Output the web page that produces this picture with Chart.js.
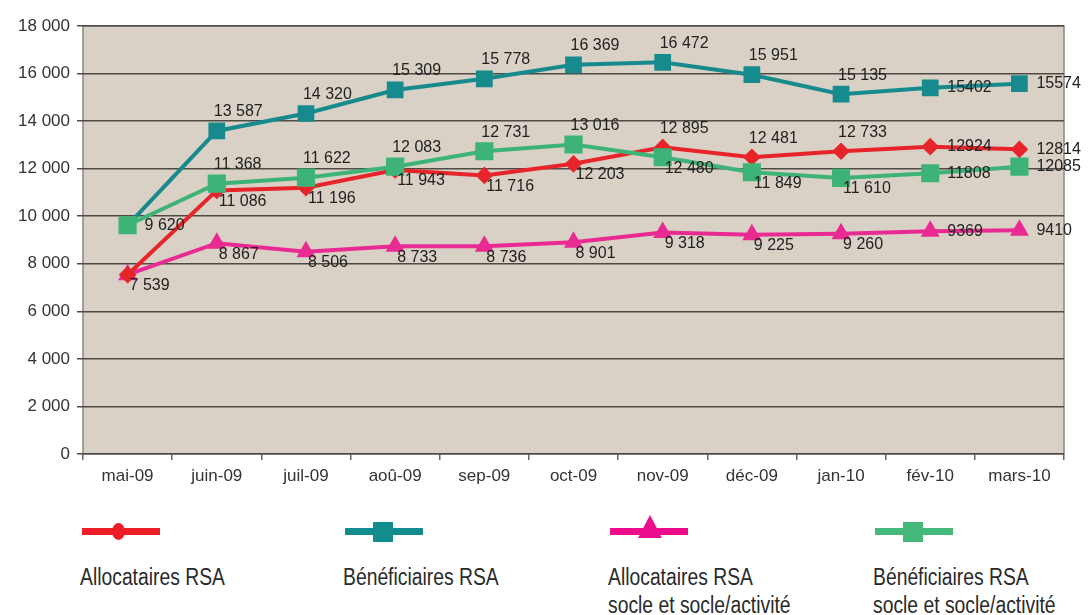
<!DOCTYPE html>
<html lang="fr">
<head>
<meta charset="utf-8">
<script src="https://cdn.jsdelivr.net/npm/chart.js@4.4.1/dist/chart.umd.min.js"></script>
<style>
  html, body { margin: 0; padding: 0; background: #fff; }
  #wrap { position: relative; width: 1088px; height: 615px; overflow: hidden; }
  #chart { position: absolute; left: 0; top: 0; }
  .leg { position: absolute; top: 512px; width: 260px; font-family: "Liberation Sans", Arial, sans-serif; font-size: 23px; color: #2a2a2a; line-height: 28px; }
  .leg .line { position: absolute; left: 2px; top: 16px; width: 78px; height: 7px; }
  .leg .mk { position: absolute; }
  .leg .txt { position: absolute; left: 0; top: 51px; white-space: nowrap; transform: scaleX(0.84); transform-origin: left top; }
</style>
</head>
<body>
<div id="wrap">
  <canvas id="chart" width="1088" height="500"></canvas>
  <div class="leg" style="left:80px">
    <div class="line" style="background:#ec1f28"></div>
    <div class="mk" style="left:32px;top:11px;width:13px;height:17px;border-radius:50%;background:#ec1f28"></div>
    <div class="txt">Allocataires RSA</div>
  </div>
  <div class="leg" style="left:343px">
    <div class="line" style="background:#128c8c"></div>
    <div class="mk" style="left:30px;top:10px;width:20px;height:20px;background:#128c8c"></div>
    <div class="txt">Bénéficiaires RSA</div>
  </div>
  <div class="leg" style="left:608px">
    <div class="line" style="background:#ec0c8c"></div>
    <div class="mk" style="left:30px;top:3px;width:0;height:0;border-left:12px solid transparent;border-right:12px solid transparent;border-bottom:23px solid #ec0c8c"></div>
    <div class="txt">Allocataires RSA<br>socle et socle/activité</div>
  </div>
  <div class="leg" style="left:873px">
    <div class="line" style="background:#45b97c"></div>
    <div class="mk" style="left:30px;top:10px;width:20px;height:20px;background:#45b97c"></div>
    <div class="txt">Bénéficiaires RSA<br>socle et socle/activité</div>
  </div>
</div>
<script>
const months = ['mai-09', 'juin-09', 'juil-09', 'aoû-09', 'sep-09', 'oct-09', 'nov-09', 'déc-09', 'jan-10', 'fév-10', 'mars-10'];
const yTicks = [0, 2000, 4000, 6000, 8000, 10000, 12000, 14000, 16000, 18000];

const allocataires = [7539, 11086, 11196, 11943, 11716, 12203, 12895, 12481, 12733, 12924, 12814];
const beneficiaires = [9620, 13587, 14320, 15309, 15778, 16369, 16472, 15951, 15135, 15402, 15574];
const allocSocle = [7539, 8867, 8506, 8733, 8736, 8901, 9318, 9225, 9260, 9369, 9410];
const benefSocle = [9620, 11368, 11622, 12083, 12731, 13016, 12480, 11849, 11610, 11808, 12085];

// where each value label sits: a = above, b = below, r = right (no separator), R = right, '' = none
const allocLabels = ['b', 'b', 'b', 'b', 'b', 'b', 'a', 'a', 'a', 'r', 'r'];
const benefLabels = ['', 'a', 'a', 'a', 'a', 'a', 'a', 'a', 'a', 'r', 'r'];
const allocSocleLabels = ['', 'b', 'b', 'b', 'b', 'b', 'b', 'b', 'b', 'r', 'r'];
const benefSocleLabels = ['R', 'a', 'a', 'a', 'a', 'a', 'b', 'b', 'b', 'r', 'r'];

const TICK_FONT = { family: '"Liberation Sans", Arial, sans-serif', size: 17 };

function fmt(v, spaced) {
  const s = String(v);
  return spaced ? s.replace(/\B(?=(\d{3})+(?!\d))/g, ' ') : s;
}

const plotBg = {
  id: 'plotBg',
  beforeDraw(c) {
    const { ctx, chartArea: a } = c;
    ctx.save();
    ctx.fillStyle = '#d9d1c5';
    ctx.fillRect(a.left, a.top, a.right - a.left, a.bottom - a.top);
    ctx.strokeStyle = '#8a857e';
    ctx.lineWidth = 1.5;
    ctx.strokeRect(a.left, a.top, a.right - a.left, a.bottom - a.top);
    ctx.restore();
  }
};

const valueLabels = {
  id: 'valueLabels',
  afterDatasetsDraw(c) {
    const ctx = c.ctx;
    ctx.save();
    ctx.font = '16px "Liberation Sans", Arial, sans-serif';
    ctx.fillStyle = '#222';
    ctx.textAlign = 'left';
    ctx.textBaseline = 'middle';
    c.data.datasets.forEach((ds, i) => {
      const meta = c.getDatasetMeta(i);
      meta.data.forEach((pt, j) => {
        const pos = ds.labelPos[j];
        if (!pos) return;
        const text = fmt(ds.data[j], pos !== 'r');
        if (pos === 'a') ctx.fillText(text, pt.x - 3, pt.y - 19);
        else if (pos === 'b') ctx.fillText(text, pt.x + 2, pt.y + 11);
        else ctx.fillText(text, pt.x + 17, pt.y);
      });
    });
    ctx.restore();
  }
};

new Chart(document.getElementById('chart'), {
  type: 'line',
  data: {
    labels: months,
    datasets: [
      {
        label: 'Bénéficiaires RSA socle et socle/activité',
        data: benefSocle, labelPos: benefSocleLabels,
        borderColor: '#3db378', backgroundColor: '#3db378',
        pointStyle: 'rect', pointRadius: 10, borderWidth: 4
      },
      {
        label: 'Allocataires RSA',
        data: allocataires, labelPos: allocLabels,
        borderColor: '#e8242b', backgroundColor: '#e8242b',
        pointStyle: 'rectRot', pointRadius: 6, borderWidth: 4
      },
      {
        label: 'Allocataires RSA socle et socle/activité',
        data: allocSocle, labelPos: allocSocleLabels,
        borderColor: '#ea2a93', backgroundColor: '#ea2a93',
        pointStyle: 'triangle', pointRadius: 7, borderWidth: 4
      },
      {
        label: 'Bénéficiaires RSA',
        data: beneficiaires, labelPos: benefLabels,
        borderColor: '#178a8e', backgroundColor: '#178a8e',
        pointStyle: 'rect', pointRadius: 9, borderWidth: 4
      }
    ]
  },
  options: {
    responsive: false,
    animation: false,
    layout: { padding: { left: 0, right: 24, top: 26, bottom: 0 } },
    plugins: { legend: { display: false }, tooltip: { enabled: false } },
    elements: { line: { tension: 0 } },
    scales: {
      x: {
        offset: true,
        grid: { offset: true, drawOnChartArea: false, drawTicks: true, tickLength: 6, color: '#6a655e', lineWidth: 1.5 },
        border: { display: false },
        ticks: { color: '#333', font: TICK_FONT, padding: 6, maxRotation: 0 },
        afterFit(s) { s.height = 46; }
      },
      y: {
        min: 0, max: 18000,
        afterBuildTicks(s) { s.ticks = yTicks.map(v => ({ value: v })); },
        grid: { color: '#4f4a44', lineWidth: 1.5, tickLength: 6 },
        border: { display: false },
        ticks: { color: '#333', font: TICK_FONT, padding: 7, callback: v => fmt(v, true) },
        afterFit(s) { s.width = 83; }
      }
    }
  },
  plugins: [plotBg, valueLabels]
});
</script>
</body>
</html>
